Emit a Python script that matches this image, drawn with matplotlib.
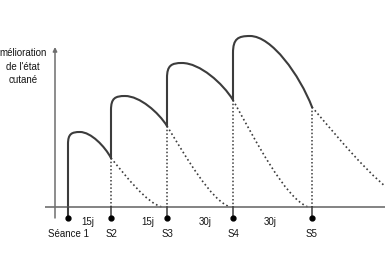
import matplotlib

matplotlib.use("Agg")
import matplotlib.pyplot as plt
from matplotlib.path import Path
from matplotlib.patches import PathPatch

seances = ["Séance 1", "S2", "S3", "S4", "S5"]
seance_x = [68, 111, 167, 233, 312]
ecarts = ["15j", "15j", "30j", "30j"]
ecart_x = [88, 148, 205, 270]
pic_x = [80, 125, 182, 250]
pic_h = [75, 111, 144, 171]
fin_h = [49, 81, 107, 100]        # hauteur à la séance suivante
retour_x = [162, 230, 308, 420]   # où la courbe pointillée rejoint l'axe
ylabel = ["mélioration", "de l'état", "cutané"]

GRIS = "#3c3c3c"
AXE = "#6e6e6e"
TEXTE = "#151515"

fig = plt.figure(figsize=(3.85, 2.8), dpi=100)
ax = fig.add_axes([0, 0, 1, 1])
ax.set_xlim(0, 385)
ax.set_ylim(-73, 207)
ax.axis("off")

# axes
ax.plot([45, 385], [0, 0], color=AXE, lw=1.2, solid_capstyle="butt")
ax.annotate("", xy=(55, 160), xytext=(55, -11),
            arrowprops=dict(arrowstyle="-|>", color=AXE, lw=1.1,
                            mutation_scale=6, shrinkA=0, shrinkB=0))

for i in range(4):
    x0, xp, hp, he = seance_x[i], pic_x[i], pic_h[i], fin_h[i]
    xe, xz = seance_x[i + 1], retour_x[i]
    hb = -11 if i == 0 else fin_h[i - 1]
    a = xp - x0
    D = xe - xp
    dh = hp - he
    verts = [(x0, hb), (x0, hp - a),
             (x0, hp - 0.15 * a), (x0 + 0.3 * a, hp), (xp, hp),
             (xp + 0.35 * D, hp), (xe - 0.2 * D, he + 0.45 * dh), (xe, he)]
    codes = [Path.MOVETO, Path.LINETO] + [Path.CURVE4] * 6
    ax.add_patch(PathPatch(Path(verts, codes), fill=False, ec=GRIS, lw=1.5,
                           capstyle="round", joinstyle="round"))

    # décroissance en pointillés
    W = xz - xe
    tverts = [(xe, he), (xe + 0.3 * W, 0.62 * he), (xz - 0.3 * W, 0.08 * he), (xz, 0)]
    tcodes = [Path.MOVETO] + [Path.CURVE4] * 3
    ax.add_patch(PathPatch(Path(tverts, tcodes), fill=False, ec=GRIS, lw=1.2,
                           ls=(0, (1, 1.6))))

    # verticale pointillée à la séance suivante
    ax.plot([xe, xe], [he, 0], color=GRIS, lw=1.1, ls=(0, (1, 1.4)))

# repères des séances
for x, lab in zip(seance_x, seances):
    ax.plot([x, x], [0, -11], color=GRIS, lw=1.1)
    ax.plot(x, -11, "o", color="black", ms=3.5)
    ax.text(x, -27, lab, ha="center", va="center", fontsize=7,
            family="Liberation Sans", color=TEXTE)

for x, lab in zip(ecart_x, ecarts):
    ax.text(x, -15, lab, ha="center", va="center", fontsize=7,
            family="Liberation Sans", color=TEXTE)

for k, lab in enumerate(ylabel):
    ax.text(23, 154 - 13.5 * k, lab, ha="center", va="center", fontsize=7,
            family="Liberation Sans", color=TEXTE)

fig.savefig("out.png", dpi=100)
